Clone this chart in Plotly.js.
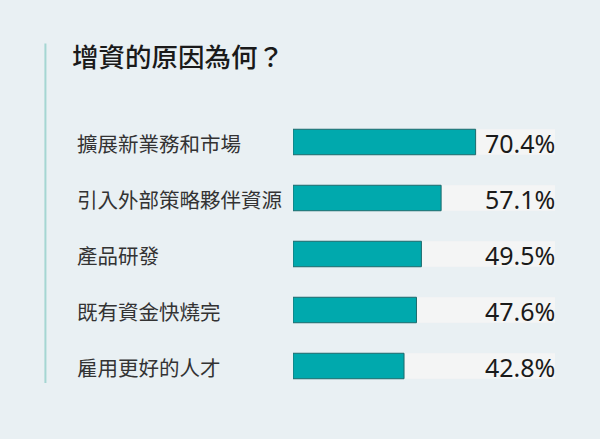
<!DOCTYPE html>
<html>
<head>
<meta charset="utf-8">
<script src="https://cdn.plot.ly/plotly-3.0.1.min.js"></script>
<style>html,body{margin:0;padding:0;background:#e9f0f3;}#chart{width:600px;height:439px;}</style>
</head>
<body>
<div id="chart"></div>
<script>
const chartTitle = "增資的原因為何？";
const categories = ["擴展新業務和市場", "引入外部策略夥伴資源", "產品研發", "既有資金快燒完", "雇用更好的人才"];
const values = [70.4, 57.1, 49.5, 47.6, 42.8];
const trackMax = 101;
const valueLabels = values.map(v => v.toFixed(1) + "%");

const W = 600, H = 439;
const plotLeft = 293.3, plotRight = 555;
const plotTop = 113.6, plotBottom = 394.1;
const pw = plotRight - plotLeft, ph = plotBottom - plotTop;
const px2paperX = x => (x - plotLeft) / pw;
const px2paperY = y => (plotBottom - y) / ph;

const track = {
  type: "bar", orientation: "h",
  y: categories, x: categories.map(() => trackMax),
  marker: {color: "#f4f5f5", line: {width: 0}},
  hoverinfo: "skip", showlegend: false
};
const bars = {
  type: "bar", orientation: "h",
  y: categories, x: values,
  marker: {color: "#00a9ad", line: {color: "#1d6a6c", width: 1}},
  hoverinfo: "skip", showlegend: false
};

const annotations = [];
categories.forEach((c, i) => {
  annotations.push({
    xref: "paper", yref: "y", x: px2paperX(75.5), y: c,
    xanchor: "left", yanchor: "middle", showarrow: false, yshift: -1,
    text: c, font: {family: "Noto Sans CJK TC", size: 20.5, color: "#333333"}
  });
  annotations.push({
    xref: "x", yref: "y", x: trackMax, y: c,
    xanchor: "right", yanchor: "middle", showarrow: false,
    xshift: 2, yshift: -1,
    text: valueLabels[i], font: {family: "Noto Sans", size: 25, color: "#1a1a1a"}
  });
});

const layout = {
  width: W, height: H,
  paper_bgcolor: "#e9f0f3", plot_bgcolor: "rgba(0,0,0,0)",
  margin: {l: plotLeft, r: W - plotRight, t: plotTop, b: H - plotBottom, pad: 0},
  barmode: "overlay", bargap: 0.545,
  title: {
    text: chartTitle, xref: "container", yref: "container",
    x: 72 / W, xanchor: "left", y: 1 - 58 / H, yanchor: "middle",
    font: {family: "Noto Sans CJK TC", size: 26.5, color: "#1a1a1a", weight: 500}
  },
  xaxis: {range: [0, trackMax], visible: false, fixedrange: true},
  yaxis: {autorange: "reversed", visible: false, fixedrange: true},
  shapes: [{
    type: "line", xref: "paper", yref: "paper",
    x0: px2paperX(46), x1: px2paperX(46),
    y0: px2paperY(43), y1: px2paperY(383),
    line: {color: "#a5d6d2", width: 2}
  }],
  annotations: annotations
};

Plotly.newPlot("chart", [track, bars], layout, {displayModeBar: false, staticPlot: true});
</script>
</body>
</html>
